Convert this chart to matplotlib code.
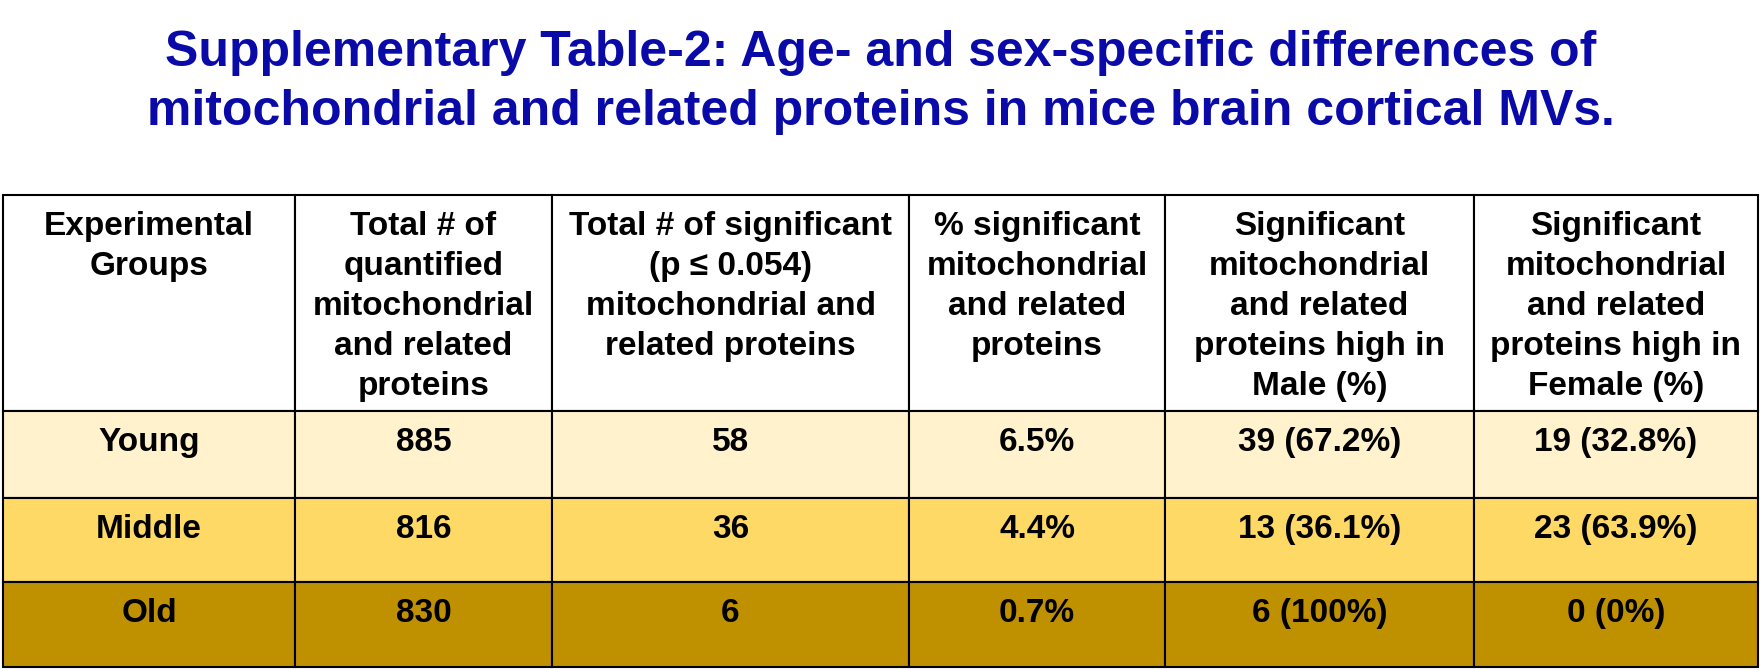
import matplotlib
matplotlib.use('Agg')
import matplotlib.pyplot as plt
import matplotlib.patches as patches

plt.rcParams['font.family'] = ['Liberation Sans', 'DejaVu Sans']

title_lines = ['Supplementary Table-2: Age- and sex-specific differences of',
               'mitochondrial and related proteins in mice brain cortical MVs.']

headers = [['Experimental', 'Groups'],
           ['Total # of', 'quantified', 'mitochondrial', 'and related', 'proteins'],
           ['Total # of significant', '(p \u2264 0.054)', 'mitochondrial and', 'related proteins'],
           ['% significant', 'mitochondrial', 'and related', 'proteins'],
           ['Significant', 'mitochondrial', 'and related', 'proteins high in', 'Male (%)'],
           ['Significant', 'mitochondrial', 'and related', 'proteins high in', 'Female (%)']]

groups = ['Young', 'Middle', 'Old']
quantified = [885, 816, 830]
significant = [58, 36, 6]
pct_significant = ['6.5%', '4.4%', '0.7%']
male_high = [39, 13, 6]
male_pct = ['67.2%', '36.1%', '100%']
female_high = [19, 23, 0]
female_pct = ['32.8%', '63.9%', '0%']
row_colors = ['#FFF2CC', '#FFD966', '#BF9000']

# layout in pixels
W, H = 1761, 670
col_edges = [3, 295, 552, 909, 1165, 1474, 1758]
row_edges = [195, 411, 498, 582, 667]
fs = 24
line_h = 40
base_off = 40

fig = plt.figure(figsize=(W / 100, H / 100), dpi=100)
ax = fig.add_axes([0, 0, 1, 1])
ax.set_xlim(0, W)
ax.set_ylim(H, 0)
ax.axis('off')

title_color = '#0A0AA8'
ax.text(W / 2, 66, title_lines[0], ha='center', va='baseline', fontsize=36,
        fontweight='bold', color=title_color)
ax.text(W / 2, 125, title_lines[1], ha='center', va='baseline', fontsize=36,
        fontweight='bold', color=title_color)

rows = [[headers[c] for c in range(6)]]
for i in range(len(groups)):
    rows.append([[groups[i]], [str(quantified[i])], [str(significant[i])],
                 [pct_significant[i]],
                 ['%d (%s)' % (male_high[i], male_pct[i])],
                 ['%d (%s)' % (female_high[i], female_pct[i])]])

for r, row in enumerate(rows):
    y0, y1 = row_edges[r], row_edges[r + 1]
    face = 'white' if r == 0 else row_colors[r - 1]
    for c, lines in enumerate(row):
        x0, x1 = col_edges[c], col_edges[c + 1]
        ax.add_patch(patches.Rectangle((x0, y0), x1 - x0, y1 - y0,
                                       facecolor=face, edgecolor='black', linewidth=1.5))
        for k, line in enumerate(lines):
            ax.text((x0 + x1) / 2, y0 + base_off + k * line_h, line, ha='center',
                    va='baseline', fontsize=fs, fontweight='bold', color='black')

fig.savefig('out.png', dpi=100, facecolor='white')
